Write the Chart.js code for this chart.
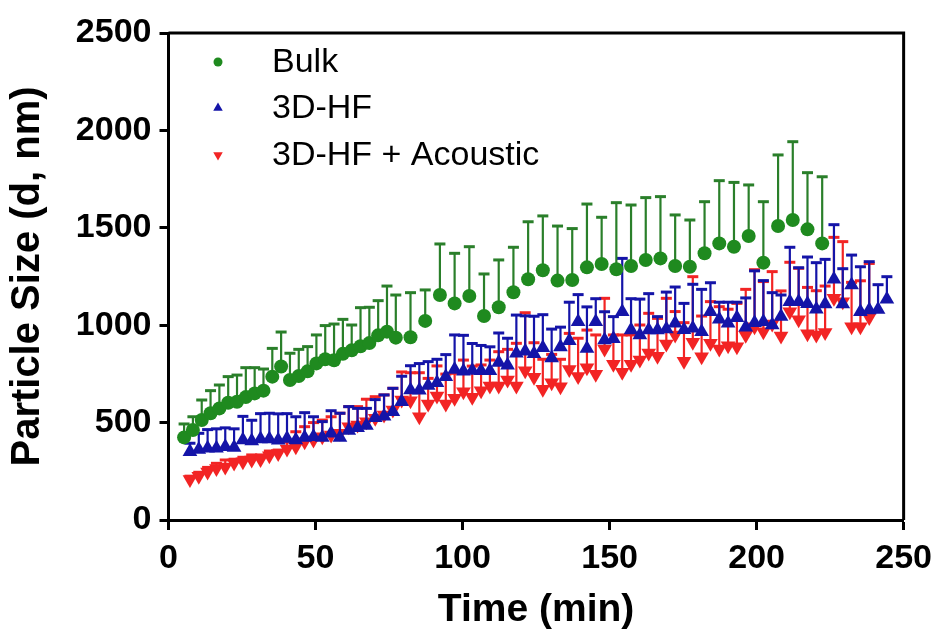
<!DOCTYPE html>
<html>
<head>
<meta charset="utf-8">
<script src="https://cdn.jsdelivr.net/npm/chart.js@4.4.1/dist/chart.umd.min.js"></script>
<style>
  html, body { margin: 0; padding: 0; background: #ffffff; }
  #wrap { width: 940px; height: 635px; position: relative; }
</style>
</head>
<body>
<div id="wrap"><canvas id="c" width="940" height="635"></canvas></div>
<script>
// Particle size over time (mean with upper SD bar)
const seriesNames = ['Bulk', '3D-HF', '3D-HF + Acoustic'];

const bulkTime = [5.3, 8.3, 11.3, 14.3, 17.3, 20.3, 23.3, 26.3, 29.3, 32.3, 35.3, 38.3, 41.3, 44.3, 47.3, 50.3, 53.3, 56.3, 59.3, 62.3, 65.3, 68.3, 71.3, 74.3, 77.3,
  82.3, 87.3, 92.3, 97.3, 102.3, 107.3, 112.3, 117.3, 122.3, 127.3, 132.3, 137.3, 142.3, 147.3, 152.3, 157.3, 162.3, 167.3, 172.3, 177.3, 182.3, 187.3, 192.3, 197.3, 202.3, 207.3, 212.3, 217.3, 222.3];
const bulkMean = [424, 462, 513, 548, 573, 602, 607, 631, 650, 664, 736, 788, 719, 739, 763, 804, 825, 820, 853, 871, 892, 908, 948, 967, 936,
  938, 1022, 1155, 1112, 1150, 1047, 1092, 1169, 1236, 1282, 1229, 1232, 1297, 1314, 1287, 1304, 1335, 1343, 1304, 1300, 1369, 1420, 1403, 1458, 1321, 1509, 1540, 1492, 1420];
const bulkSD = [69, 68, 103, 116, 120, 134, 137, 151, 132, 111, 145, 177, 137, 137, 127, 146, 173, 186, 177, 130, 198, 184, 178, 234, 219,
  229, 159, 262, 257, 253, 216, 243, 231, 295, 279, 280, 264, 325, 240, 342, 313, 320, 317, 262, 240, 265, 322, 330, 262, 313, 365, 402, 291, 342];

const hfTime = [7.3, 10.3, 13.3, 16.3, 19.3, 22.3, 25.3, 28.3, 31.3, 34.3, 37.3, 40.3, 43.3, 46.3, 49.3, 52.3, 55.3, 58.3, 61.3, 64.3,
  67.3, 70.3, 73.3, 76.3, 79.3, 82.3, 85.3, 88.3, 91.3, 94.3, 97.3, 100.3, 103.3, 106.3, 109.3, 112.3, 115.3, 118.3, 121.3, 124.3,
  127.3, 130.3, 133.3, 136.3, 139.3, 142.3, 145.3, 148.3, 151.3, 154.3, 157.3, 160.3, 163.3, 166.3, 169.3, 172.3, 175.3, 178.3, 181.3, 184.3,
  187.3, 190.3, 193.3, 196.3, 199.3, 202.3, 205.3, 208.3, 211.3, 214.3, 217.3, 220.3, 223.3, 226.3, 229.3, 232.3, 235.3, 238.3, 241.3, 244.3];
const hfMean = [350, 362, 368, 368, 376, 372, 411, 405, 416, 416, 410, 419, 411, 424, 428, 424, 445, 424, 460, 473,
  485, 525, 532, 556, 607, 667, 666, 690, 704, 735, 772, 764, 767, 766, 766, 809, 794, 856, 866, 854,
  884, 832, 888, 920, 1018, 881, 1018, 924, 930, 1069, 975, 950, 975, 975, 980, 1010, 977, 984, 967, 1069,
  1030, 1010, 1038, 990, 1013, 1018, 1001, 1045, 1121, 1121, 1110, 1082, 1109, 1236, 1109, 1206, 1069, 1078, 1080, 1133];
const hfSD = [44, 83, 96, 100, 97, 96, 121, 107, 130, 132, 135, 127, 119, 127, 102, 81, 116, 124, 122, 100,
  88, 93, 110, 120, 131, 125, 137, 123, 121, 114, 178, 184, 139, 130, 123, 151, 139, 196, 182, 192,
  170, 148, 102, 198, 139, 213, 118, 145, 114, 274, 161, 184, 187, 69, 190, 186, 135, 226, 217, 149,
  88, 108, 80, 150, 266, 211, 166, 110, 279, 174, 240, 239, 229, 280, 181, 154, 231, 248, 128, 116];

const acTime = [7.3, 10.3, 13.3, 16.3, 19.3, 22.3, 25.3, 28.3, 31.3, 34.3, 37.3, 40.3, 43.3, 46.3, 49.3, 52.3, 55.3, 58.3, 61.3, 64.3,
  67.3, 70.3, 73.3, 76.3, 79.3, 82.3, 85.3, 88.3, 91.3, 94.3, 97.3, 100.3, 103.3, 106.3, 109.3, 112.3, 115.3, 118.3, 121.3, 124.3,
  127.3, 130.3, 133.3, 136.3, 139.3, 142.3, 145.3, 148.3, 151.3, 154.3, 157.3, 160.3, 163.3, 166.3, 169.3, 172.3, 175.3, 178.3, 181.3, 184.3,
  187.3, 190.3, 193.3, 196.3, 199.3, 202.3, 205.3, 208.3, 211.3, 214.3, 217.3, 220.3, 223.3, 226.3, 229.3, 232.3, 235.3, 238.3];
const acMean = [208, 225, 247, 265, 272, 292, 299, 308, 310, 330, 342, 365, 376, 402, 411, 428, 436, 445, 479, 488,
  505, 522, 539, 565, 616, 612, 530, 595, 636, 595, 625, 659, 630, 664, 688, 688, 719, 688, 766, 733,
  671, 705, 684, 772, 737, 781, 748, 878, 800, 758, 800, 821, 857, 840, 904, 950, 815, 912, 838, 907,
  878, 894, 890, 948, 992, 967, 1006, 945, 1069, 1028, 956, 950, 962, 1138, 1120, 992, 992, 1040];
const acSD = [17, 20, 23, 26, 36, 20, 23, 26, 24, 24, 17, 35, 77, 77, 89, 85, 94, 103, 103, 94,
  115, 111, 103, 111, 144, 144, 226, 132, 155, 154, 128, 162, 160, 132, 133, 176, 157, 219, 298, 177,
  154, 145, 141, 186, 196, 194, 202, 260, 150, 192, 150, 180, 204, 195, 234, 120, 198, 337, 209, 214,
  217, 188, 222, 236, 293, 257, 269, 231, 254, 264, 238, 227, 239, 313, 309, 228, 236, 277];

const xTicks = [0, 50, 100, 150, 200, 250];
const yTicks = [0, 500, 1000, 1500, 2000, 2500];

const GREEN = '#1f8a1f';
const BLUE = '#1414a8';
const RED = '#f22424';
const FONT = "'Liberation Sans', Arial, sans-serif";

function pairs(xs, ys) { return xs.map((x, i) => ({ x: x, y: ys[i] })); }

// Upper error bars, drawn under each dataset's own markers
const errorBars = {
  id: 'errorBars',
  beforeDatasetDraw(chart, args) {
    const ds = chart.data.datasets[args.index];
    if (!ds.sd) return;
    const ctx = chart.ctx, yS = chart.scales.y;
    ctx.save();
    ctx.strokeStyle = ds.barColor;
    ctx.lineCap = 'butt';
    args.meta.data.forEach((pt, i) => {
      const top = yS.getPixelForValue(ds.data[i].y + ds.sd[i]);
      ctx.lineWidth = 2.2;
      ctx.beginPath();
      ctx.moveTo(pt.x, pt.y);
      ctx.lineTo(pt.x, top);
      ctx.stroke();
      ctx.lineWidth = 3;
      ctx.beginPath();
      ctx.moveTo(pt.x - 5.5, top);
      ctx.lineTo(pt.x + 5.5, top);
      ctx.stroke();
    });
    ctx.restore();
  }
};

// Closed frame on the top and right of the plot area
const frame = {
  id: 'frame',
  afterDraw(chart) {
    const { ctx, chartArea: a } = chart;
    ctx.save();
    ctx.strokeStyle = '#000';
    ctx.lineWidth = 3;
    ctx.beginPath();
    ctx.moveTo(a.left, a.top);
    ctx.lineTo(a.right, a.top);
    ctx.lineTo(a.right, a.bottom);
    ctx.stroke();
    ctx.restore();
  }
};

// Legend in the upper-left corner of the plot area
const insetLegend = {
  id: 'insetLegend',
  afterDraw(chart) {
    const ctx = chart.ctx;
    const items = chart.data.datasets;
    const mx = 218, tx = 272, rows = [62, 108, 155];
    ctx.save();
    ctx.font = '34px ' + FONT;
    ctx.textBaseline = 'middle';
    ctx.textAlign = 'left';
    items.forEach((ds, i) => {
      const y = rows[i];
      ctx.fillStyle = ds.pointBackgroundColor;
      ctx.beginPath();
      if (ds.pointStyle === 'circle') {
        ctx.arc(mx, y, 4.5, 0, Math.PI * 2);
      } else {
        const r = 5.5, flip = ds.pointRotation === 180 ? -1 : 1;
        ctx.moveTo(mx, y - flip * r);
        ctx.lineTo(mx + r * 0.866, y + flip * r * 0.5);
        ctx.lineTo(mx - r * 0.866, y + flip * r * 0.5);
        ctx.closePath();
      }
      ctx.fill();
      ctx.fillStyle = '#000';
      ctx.fillText(ds.label, tx, y + 1);
    });
    ctx.restore();
  }
};

const datasets = [
  { label: seriesNames[0], data: pairs(bulkTime, bulkMean), sd: bulkSD, barColor: '#2a7f2a',
    pointStyle: 'circle', pointRadius: 7, pointBackgroundColor: GREEN, pointBorderColor: GREEN, pointBorderWidth: 0 },
  { label: seriesNames[1], data: pairs(hfTime, hfMean), sd: hfSD, barColor: BLUE,
    pointStyle: 'triangle', pointRadius: 8.5, pointBackgroundColor: BLUE, pointBorderColor: BLUE, pointBorderWidth: 0 },
  { label: seriesNames[2], data: pairs(acTime, acMean), sd: acSD, barColor: RED,
    pointStyle: 'triangle', pointRotation: 180, pointRadius: 8.5, pointBackgroundColor: RED, pointBorderColor: RED, pointBorderWidth: 0 }
];

new Chart(document.getElementById('c'), {
  type: 'scatter',
  data: { datasets: datasets },
  options: {
    responsive: false,
    animation: false,
    events: [],
    layout: { padding: { left: 0, top: 33, right: 36, bottom: 0 } },
    plugins: { legend: { display: false }, tooltip: { enabled: false } },
    scales: {
      x: {
        type: 'linear', min: 0, max: 250,
        afterBuildTicks: (s) => { s.ticks = xTicks.map(v => ({ value: v })); },
        afterFit: (s) => { s.height = 115; },
        border: { display: true, color: '#000', width: 3 },
        grid: { drawOnChartArea: false, drawTicks: true, tickLength: 10, tickWidth: 3, tickColor: '#000' },
        ticks: { color: '#000', padding: 8, font: { family: FONT, size: 34, weight: 'bold' }, maxRotation: 0,
                 callback: (v) => String(v) },
        title: { display: true, text: 'Time (min)', color: '#000', padding: { top: 0, bottom: 1 },
                 font: { family: FONT, size: 39, weight: 'bold' } }
      },
      y: {
        type: 'linear', min: 0, max: 2500,
        afterBuildTicks: (s) => { s.ticks = yTicks.map(v => ({ value: v })); },
        afterFit: (s) => { s.width = 168.5; },
        border: { display: true, color: '#000', width: 3 },
        grid: { drawOnChartArea: false, drawTicks: true, tickLength: 9, tickWidth: 3, tickColor: '#000' },
        ticks: { color: '#000', padding: 8, font: { family: FONT, size: 34, weight: 'bold' },
                 callback: (v) => String(v) },
        title: { display: true, text: 'Particle Size (d, nm)', color: '#000', padding: { top: 4, bottom: 0 },
                 font: { family: FONT, size: 40, weight: 'bold' } }
      }
    }
  },
  plugins: [errorBars, frame, insetLegend]
});
</script>
</body>
</html>
